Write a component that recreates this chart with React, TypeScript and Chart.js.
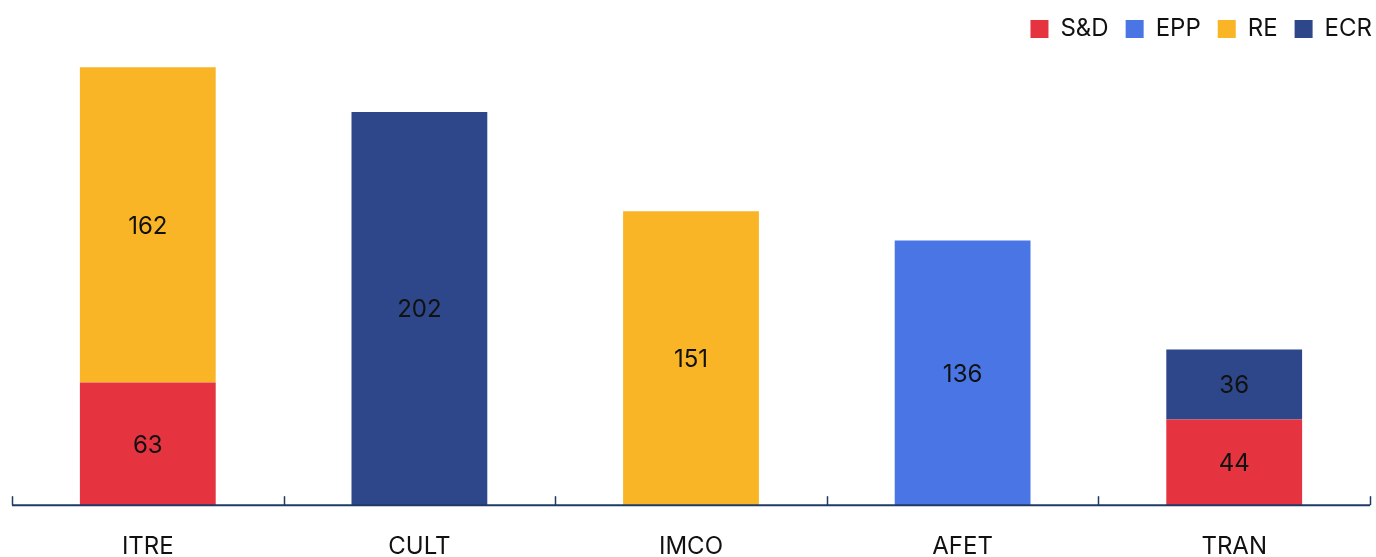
import React, { useEffect, useRef } from "react";
import { Chart, registerables } from "chart.js";

Chart.register(...registerables);

// Committees on the x axis
const committees = ["ITRE", "CULT", "IMCO", "AFET", "TRAN"];

// Seats per political group, one entry per committee (null = none)
const sdValues = [63, null, null, null, 44];
const eppValues = [null, null, null, 136, null];
const reValues = [162, null, 151, null, null];
const ecrValues = [null, 202, null, null, 36];

const groupNames = ["S&D", "EPP", "RE", "ECR"];
const groupColors = ["#E5333F", "#4A76E5", "#F9B526", "#2D478A"];

const FONT = "Inter, 'Noto Sans', sans-serif";
const AXIS_COLOR = "#1E3A66";
const TEXT_COLOR = "#111111";

// Writes each segment's value in the middle of its bar
const barValueLabels = {
  id: "barValueLabels",
  afterDatasetsDraw(chart: any) {
    const ctx = chart.ctx;
    ctx.save();
    ctx.font = `24px ${FONT}`;
    ctx.fillStyle = TEXT_COLOR;
    ctx.textAlign = "center";
    ctx.textBaseline = "middle";
    chart.data.datasets.forEach((ds: any, di: number) => {
      const meta = chart.getDatasetMeta(di);
      meta.data.forEach((bar: any, i: number) => {
        const v = ds.data[i];
        if (v == null || v === 0) return;
        const yMid = (bar.y + bar.base) / 2;
        ctx.fillText(String(v), bar.x, yMid + 1.5);
      });
    });
    ctx.restore();
  },
};

// Baseline with upward tick marks between categories
const baselineTicks = {
  id: "baselineTicks",
  afterDatasetsDraw(chart: any) {
    const { ctx, chartArea } = chart;
    const x = chart.scales.x;
    const n = chart.data.labels.length;
    const step = (x.right - x.left) / n;
    const yb = chartArea.bottom;
    ctx.save();
    ctx.strokeStyle = AXIS_COLOR;
    ctx.lineWidth = 2;
    ctx.beginPath();
    ctx.moveTo(x.left, yb);
    ctx.lineTo(x.right, yb);
    ctx.stroke();
    ctx.lineWidth = 1.5;
    for (let i = 0; i <= n; i++) {
      const px = Math.round(x.left + i * step) + 0.5;
      ctx.beginPath();
      ctx.moveTo(px, yb);
      ctx.lineTo(px, yb - 9);
      ctx.stroke();
    }
    ctx.restore();
  },
};

// Nudges the legend into the top-right corner
const legendNudge = {
  id: "legendNudge",
  afterLayout(chart: any) {
    const l = chart.legend;
    if (!l) return;
    l.left += 19;
    l.right += 19;
  },
};

export default function App() {
  const canvasRef = useRef<HTMLCanvasElement | null>(null);

  useEffect(() => {
    if (!canvasRef.current) return;
    const seriesValues = [sdValues, eppValues, reValues, ecrValues];
    const chart = new Chart(canvasRef.current, {
      type: "bar",
      data: {
        labels: committees,
        datasets: groupNames.map((name, i) => ({
          label: name,
          data: seriesValues[i],
          backgroundColor: groupColors[i],
          borderWidth: 0,
          barPercentage: 0.5,
          categoryPercentage: 1.0,
        })),
      },
      options: {
        responsive: false,
        animation: false,
        devicePixelRatio: 1,
        layout: { padding: { left: 12, right: 6, top: 0, bottom: 0 } },
        plugins: {
          tooltip: { enabled: false },
          legend: {
            position: "top",
            align: "end",
            labels: {
              boxWidth: 18,
              boxHeight: 18,
              padding: 17,
              color: TEXT_COLOR,
              font: { family: FONT, size: 24 },
            },
          },
        },
        scales: {
          x: {
            stacked: true,
            grid: { display: false },
            border: { display: false },
            ticks: {
              color: TEXT_COLOR,
              padding: 19,
              font: { family: FONT, size: 24 },
            },
          },
          y: {
            stacked: true,
            display: false,
            min: 0,
            max: 233.4,
          },
        },
      },
      plugins: [barValueLabels, baselineTicks, legendNudge],
    });
    return () => chart.destroy();
  }, []);

  return (
    <div
      style={{
        position: "fixed",
        left: 0,
        top: 0,
        width: 1376,
        height: 557,
        overflow: "hidden",
        background: "#ffffff",
      }}
    >
      <canvas ref={canvasRef} width={1376} height={580} style={{ display: "block" }} />
    </div>
  );
}
